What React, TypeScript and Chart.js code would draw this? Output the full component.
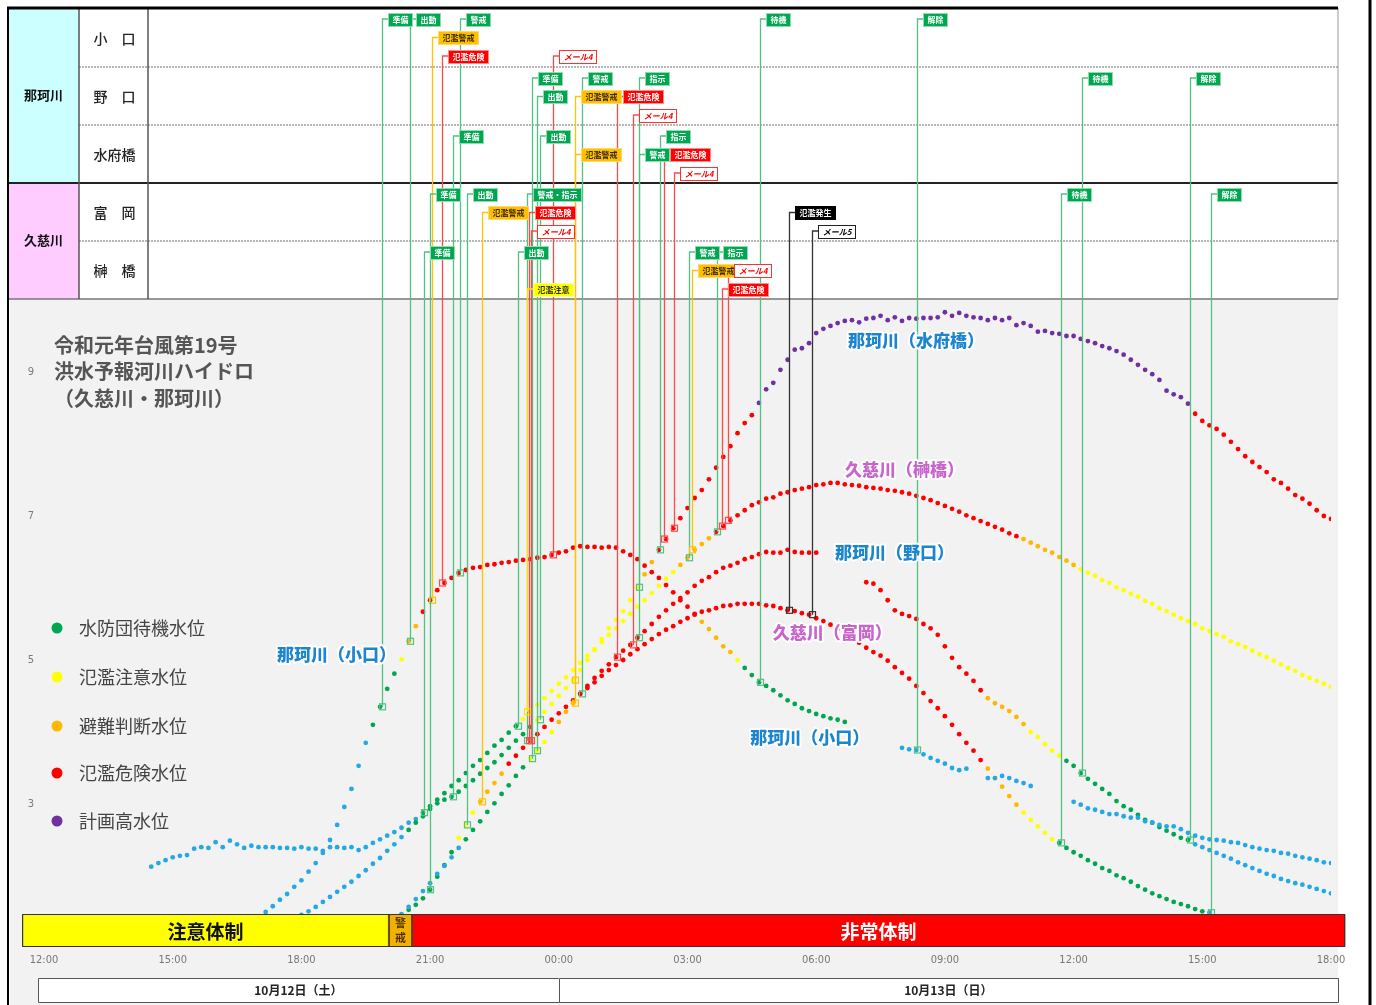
import React, { useEffect, useRef } from "react";
import { Chart, registerables } from "chart.js";

Chart.register(...registerables);

const FONT = "'Noto Sans CJK JP', 'Noto Sans', sans-serif";

// ---- axes (hours after 12:00, Oct 12) ----
const tickHours = [0, 3, 6, 9, 12, 15, 18, 21, 24, 27, 30];
const tickLabels = ["12:00", "15:00", "18:00", "21:00", "00:00", "03:00", "06:00", "09:00", "12:00", "15:00", "18:00"];
const yTicks = [3, 5, 7, 9];

// ---- table ----
const riverNames = ["那珂川", "久慈川"];
const stationNames = ["小　口", "野　口", "水府橋", "富　岡", "榊　橋"];

// ---- series (10-minute values; start = index of first value, 0 = 12:00) ----
const koguchiStart = 30;
const koguchi = [
  1.42, 1.5, 1.58, 1.67, 1.75, 1.85, 1.94, 2.06, 2.18, 2.32,
  2.5, 2.71, 2.96, 3.21, 3.53, 3.85, 4.1, 4.35, 4.6, 4.81,
  5.01, 5.26, 5.47, 5.67, 5.83, 5.97, 6.07, 6.14, 6.21, 6.25,
  6.28, 6.29, 6.32, 6.33, 6.35, 6.36, 6.38, 6.39, 6.4, 6.42,
  6.43, 6.46, 6.49, 6.51, 6.56, 6.58, 6.57, 6.57, 6.56, 6.57,
  6.56, 6.51, 6.46, 6.4, 6.31, 6.22, 6.14, 6.04, 5.94, 5.83,
  5.74, 5.64, 5.53, 5.43, 5.31, 5.19, 5.11, 5.0, 4.89, 4.79,
  4.69, 4.64, 4.58, 4.51, 4.44, 4.39, 4.33, 4.29, 4.25, 4.22,
  4.19, 4.17, 4.14, null, null, null, null, null, null, null,
  3.78, 3.76, 3.75, 3.69, 3.64, 3.6, 3.56, 3.5, 3.47, 3.49,
  null, null, 3.36, 3.36, 3.39, 3.36, 3.32, 3.29, 3.25, null,
  null, null, null, null, 3.03, 2.99, 2.94, 2.92, 2.89, 2.86,
  2.86, 2.83, 2.81, 2.81, 2.76, 2.74, 2.71, 2.69, 2.69, 2.65,
  2.6, 2.56, 2.53, 2.51, 2.5, 2.49, 2.47, 2.46, 2.43, 2.4,
  2.38, 2.36, 2.35, 2.32, 2.31, 2.28, 2.26, 2.24, 2.22, 2.19, 2.18,
];

const noguchiStart = 50;
const noguchi = [
  1.47, 1.57, 1.68, 1.79, 1.9, 2.03, 2.14, 2.26, 2.39, 2.51,
  2.64, 2.76, 2.89, 3.01, 3.14, 3.26, 3.39, 3.51, 3.63, 3.74,
  3.86, 4.0, 4.14, 4.28, 4.4, 4.53, 4.64, 4.75, 4.85, 4.94,
  5.04, 5.13, 5.21, 5.31, 5.4, 5.5, 5.6, 5.69, 5.78, 5.86,
  5.94, 6.03, 6.1, 6.15, 6.22, 6.28, 6.31, 6.35, 6.4, 6.43,
  6.47, 6.5, 6.49, 6.49, 6.53, 6.5, 6.49, 6.49, 6.49, null,
  null, null, null, null, null, 6.08, 6.06, 5.97, 5.83, 5.69,
  5.64, 5.61, 5.57, 5.5, 5.44, 5.35, 5.19, 5.03, 4.9, 4.81,
  4.71, 4.58, 4.47, 4.4, 4.35, 4.29, 4.21, 4.11, 4.0, 3.93,
  3.83, 3.74, 3.67, 3.6, 3.53, 3.43, 3.35, 3.28, 3.21, 3.14,
  3.04, 2.97, 2.92, 2.85, 2.78, 2.74, 2.68, 2.63, 2.58, 2.53,
  2.5, 2.44, 2.4, 2.36, 2.32, 2.28, 2.24, 2.19, 2.15, 2.11,
  2.07, 2.03, 2.0, 1.96, 1.93, 1.9, 1.88, 1.85, 1.82, 1.79, 1.76,
];

const suifuStart = 36;
const suifu = [
  1.46, 1.51, 1.57, 1.64,
  1.71, 1.78, 1.85, 1.92, 2.0, 2.08, 2.17, 2.25, 2.35, 2.44,
  2.54, 2.64, 2.74, 2.83, 2.93, 3.01, 3.06, 3.1, 3.17, 3.25,
  3.33, 3.42, 3.5, 3.58, 3.68, 3.78, 3.88, 3.97, 4.07, 4.17,
  4.28, 4.39, 4.5, 4.61, 4.72, 4.86, 5.0, 5.14, 5.29, 5.44,
  5.56, 5.68, 5.83, 6.01, 6.19, 6.36, 6.53, 6.68, 6.83, 6.97,
  7.11, 7.25, 7.36, 7.51, 7.67, 7.82, 7.97, 8.15, 8.29, 8.4,
  8.57, 8.76, 8.85, 9.03, 9.17, 9.31, 9.33, 9.4, 9.54, 9.6,
  9.64, 9.68, 9.71, 9.72, 9.69, 9.74, 9.75, 9.78, 9.72, 9.76,
  9.71, 9.75, 9.74, 9.75, 9.75, 9.76, 9.83, 9.78, 9.82, 9.78,
  9.76, 9.75, 9.72, 9.75, 9.72, 9.75, 9.65, 9.68, 9.64, 9.56,
  9.57, 9.54, 9.53, 9.5, 9.5, 9.46, 9.43, 9.4, 9.36, 9.33,
  9.29, 9.24, 9.17, 9.1, 9.03, 8.97, 8.89, 8.74, 8.69, 8.65,
  8.56, 8.42, 8.32, 8.26, 8.21, 8.13, 8.03, 7.93, 7.83, 7.75,
  7.68, 7.61, 7.51, 7.46, 7.38, 7.29, 7.24, 7.17, 7.08, 7.0, 6.96,
];

const tomiokaStart = 50;
const tomioka = [
  1.46, 1.53, 1.6, 1.69, 1.81, 1.99, 2.15, 2.33, 2.53, 2.71,
  2.88, 3.03, 3.17, 3.29, 3.42, 3.56, 3.67, 3.78, 3.88, 3.97,
  4.07, 4.17, 4.26, 4.35, 4.44, 4.53, 4.61, 4.69, 4.78, 4.86,
  4.93, 5.0, 5.08, 5.15, 5.22, 5.29, 5.36, 5.42, 5.47, 5.53,
  5.58, 5.63, 5.67, 5.69, 5.72, 5.75, 5.76, 5.78, 5.78, 5.78,
  5.78, 5.76, 5.75, 5.72, 5.69, 5.68, 5.65, 5.63, 5.58, 5.54,
  5.49, 5.43, 5.36, 5.31, 5.24, 5.17, 5.11, 5.06, 4.99, 4.9,
  4.82, 4.74, 4.64, 4.54, 4.43, 4.33, 4.22, 4.1, 3.97, 3.85,
  3.74, 3.61, 3.49, 3.36, 3.24, 3.11, 2.99, 2.88, 2.78, 2.69,
  2.6, 2.51, 2.46, 2.39, 2.33, 2.28, 2.22, 2.17, 2.11, 2.07,
  2.01, 1.97, 1.92, 1.86, 1.81, 1.76, 1.72, 1.68, 1.64, 1.61,
  1.58, 1.54, 1.51, 1.49, 1.44, 1.4,
];

const sakakiStart = 15;
const sakaki = [
  2.13, 2.18, 2.22, 2.26, 2.28,
  2.29, 2.38, 2.4, 2.39, 2.47, 2.4, 2.49, 2.44, 2.39, 2.42,
  2.4, 2.4, 2.4, 2.39, 2.39, 2.38, 2.4, 2.38, 2.38, 2.35,
  2.4, 2.4, 2.39, 2.4, 2.36, 2.4, 2.46, 2.51, 2.56, 2.61,
  2.67, 2.74, 2.79, 2.88, 2.97, 3.06, 3.15, 3.25, 3.33, 3.43,
  3.53, 3.61, 3.71, 3.81, 3.89, 3.99, 4.08, 4.18, 4.28, 4.38,
  4.47, 4.57, 4.67, 4.76, 4.86, 4.96, 5.06, 5.15, 5.25, 5.35,
  5.44, 5.54, 5.64, 5.74, 5.83, 5.93, 6.03, 6.13, 6.22, 6.32,
  6.42, 6.53, 6.61, 6.69, 6.78, 6.86, 6.94, 7.01, 7.08, 7.15,
  7.19, 7.24, 7.26, 7.31, 7.33, 7.36, 7.38, 7.4, 7.43, 7.44,
  7.46, 7.46, 7.44, 7.43, 7.42, 7.4, 7.39, 7.38, 7.36, 7.35,
  7.33, 7.31, 7.28, 7.25, 7.22, 7.18, 7.14, 7.1, 7.06, 7.01,
  6.97, 6.93, 6.89, 6.85, 6.81, 6.76, 6.72, 6.68, 6.63, 6.58,
  6.53, 6.49, 6.43, 6.38, 6.32, 6.26, 6.21, 6.17, 6.11, 6.07,
  6.01, 5.97, 5.92, 5.88, 5.82, 5.78, 5.72, 5.68, 5.63, 5.58,
  5.54, 5.5, 5.44, 5.4, 5.36, 5.32, 5.26, 5.22, 5.18, 5.13,
  5.08, 5.04, 4.99, 4.94, 4.89, 4.85, 4.79, 4.75, 4.71, 4.67, 4.63,
];

// station order: 小口, 野口, 水府橋, 富岡, 榊橋
const seriesStarts = [koguchiStart, noguchiStart, suifuStart, tomiokaStart, sakakiStart];
const seriesValues = [koguchi, noguchi, suifu, tomioka, sakaki];

// ---- threshold levels per station ----
const taikiLevel = [3.97, 2.46, 2.57, 1.5, 2.86];
const chuiLevel = [4.9, 3.63, 4.14, 2.48, 4.17];
const handanLevel = [5.05, 4.04, 6.18, 2.92, 6.31];
const kikenLevel = [5.64, 4.51, 6.39, 3.54, 6.71];
const keikakuLevel = [7.5, 7.0, 8.44, 6.5, 9.5];

const levelNames = ["水防団待機水位", "氾濫注意水位", "避難判断水位", "氾濫危険水位", "計画高水位"];
const levelColors = ["#00a650", "#ffff00", "#ffb800", "#ff0000", "#7030a0"];
const belowColor = "#25a9e4";

// ---- events: [station, slot, label, style, hour] ----
const events: [number, number, string, string, number][] = [
  [0, 0, "準備", "g", 7.88],
  [0, 0, "出動", "g", 8.53],
  [0, 0, "警戒", "g", 9.7],
  [0, 1, "氾濫警戒", "o", 9.04],
  [0, 2, "氾濫危険", "r", 9.28],
  [0, 2, "メール4", "m", 11.86],
  [0, 0, "待機", "g", 16.69],
  [0, 0, "解除", "g", 20.35],
  [1, 0, "準備", "g", 11.38],
  [1, 1, "出動", "g", 11.49],
  [1, 0, "警戒", "g", 12.54],
  [1, 1, "氾濫警戒", "o", 12.38],
  [1, 1, "氾濫危険", "r", 13.36],
  [1, 0, "指示", "g", 13.87],
  [1, 2, "メール4", "m", 13.73],
  [1, 0, "待機", "g", 24.2],
  [1, 0, "解除", "g", 26.71],
  [2, 0, "準備", "g", 9.53],
  [2, 0, "出動", "g", 11.56],
  [2, 1, "氾濫警戒", "o", 12.38],
  [2, 0, "指示", "g", 14.36],
  [2, 1, "警戒", "g", 13.87],
  [2, 1, "氾濫危険", "r", 14.45],
  [2, 2, "メール4", "m", 14.69],
  [3, 0, "準備", "g", 8.99],
  [3, 0, "出動", "g", 9.86],
  [3, 0, "警戒・指示", "g", 11.26],
  [3, 1, "氾濫警戒", "o", 10.21],
  [3, 1, "氾濫危険", "r", 11.31],
  [3, 2, "メール4", "m", 11.35],
  [3, 1, "氾濫発生", "k", 17.37],
  [3, 2, "メール5", "mk", 17.9],
  [3, 0, "待機", "g", 23.71],
  [3, 0, "解除", "g", 27.2],
  [4, 0, "準備", "g", 8.86],
  [4, 0, "出動", "g", 11.05],
  [4, 2, "氾濫注意", "y", 11.26],
  [4, 0, "警戒", "g", 15.03],
  [4, 0, "指示", "g", 15.69],
  [4, 1, "氾濫警戒", "o", 15.1],
  [4, 1, "メール4", "m", 15.94],
  [4, 2, "氾濫危険", "r", 15.8],
];

// ---- river labels on the plot: text, hour, value, color ----
const plotLabelText = ["那珂川（水府橋）", "久慈川（榊橋）", "那珂川（野口）", "久慈川（富岡）", "那珂川（小口）", "那珂川（小口）"];
const plotLabelHour = [18.74, 18.67, 18.44, 16.99, 5.43, 16.46];
const plotLabelValue = [9.44, 7.64, 6.49, 5.38, 5.07, 3.92];
const plotLabelColor = ["#1b86cf", "#c864cc", "#1b86cf", "#c864cc", "#1b86cf", "#1b86cf"];

// ---- response system bar ----
const barText = ["注意体制", "警戒", "非常体制"];
const barStart = [-0.51, 8.04, 8.58];
const barEnd = [8.04, 8.58, 30.33];
const barColor = ["#ffff00", "#f2b100", "#ff0000"];

// ---- date boxes ----
const dateLabels = ["10月12日（土）", "10月13日（日）"];
const dateStart = [-0.14, 12];
const dateEnd = [12, 30.16];

const titleLines = ["令和元年台風第19号", "洪水予報河川ハイドロ", "（久慈川・那珂川）"];

function levelColor(s: number, v: number) {
  if (v >= keikakuLevel[s]) return levelColors[4];
  if (v >= kikenLevel[s]) return levelColors[3];
  if (v >= handanLevel[s]) return levelColors[2];
  if (v >= chuiLevel[s]) return levelColors[1];
  if (v >= taikiLevel[s]) return levelColors[0];
  return belowColor;
}

function valueAt(s: number, idx: number) {
  const arr = seriesValues[s];
  const k = idx - seriesStarts[s];
  for (let d = 0; d < 6; d++) {
    if (arr[k - d] != null) return arr[k - d] as number;
    if (arr[k + d] != null) return arr[k + d] as number;
  }
  return null;
}

const styleDefs: Record<string, { fill: string; text: string; border: string; line: string; italic?: boolean }> = {
  g: { fill: "#00a650", text: "#ffffff", border: "#8fdcae", line: "#52c282" },
  o: { fill: "#ffc000", text: "#3b2b00", border: "#ffd870", line: "#ffc400" },
  r: { fill: "#ff0000", text: "#ffffff", border: "#ff8c8c", line: "#ff4a4a" },
  m: { fill: "#ffffff", text: "#ff0000", border: "#ff3030", line: "#ff4a4a", italic: true },
  k: { fill: "#000000", text: "#ffffff", border: "#000000", line: "#333333" },
  mk: { fill: "#ffffff", text: "#000000", border: "#222222", line: "#333333", italic: true },
  y: { fill: "#ffff00", text: "#333333", border: "#ffff90", line: "#ffe000" },
};

const rowTops = [8, 67, 125, 183, 241, 299];
const slotOffsets = [11, 29.5, 48];

function seg(ctx: CanvasRenderingContext2D, x1: number, y1: number, x2: number, y2: number) {
  ctx.beginPath();
  ctx.moveTo(x1, y1);
  ctx.lineTo(x2, y2);
  ctx.stroke();
}

const overlayPlugin = {
  id: "hydroOverlay",
  beforeDraw(chart: any) {
    const ctx: CanvasRenderingContext2D = chart.ctx;
    ctx.save();
    ctx.fillStyle = "#ffffff";
    ctx.fillRect(0, 0, chart.width, chart.height);
    // plot background
    ctx.fillStyle = "#f2f2f2";
    ctx.fillRect(10, 299, 1328, 706);

    // table
    const L = 8, C1 = 79, C2 = 148, R = 1338, T = 8, B = 299;
    ctx.fillStyle = "#ffffff";
    ctx.fillRect(L, T, R - L, B - T);
    ctx.fillStyle = "#ccffff";
    ctx.fillRect(L, T, C1 - L, 183 - T);
    ctx.fillStyle = "#ffccff";
    ctx.fillRect(L, 183, C1 - L, B - 183);

    ctx.save();
    ctx.strokeStyle = "#a0a0a0";
    ctx.lineWidth = 1.5;
    ctx.setLineDash([2, 1]);
    for (const y of [67, 125, 241]) seg(ctx, C1, y, R, y);
    ctx.restore();

    ctx.strokeStyle = "#222";
    ctx.lineWidth = 2;
    seg(ctx, L, 183, R, 183);
    ctx.strokeStyle = "#777";
    ctx.lineWidth = 1.5;
    seg(ctx, L, B, R, B);
    ctx.strokeStyle = "#555";
    ctx.lineWidth = 1.5;
    seg(ctx, C1, T, C1, B);
    seg(ctx, C2, T, C2, B);
    ctx.strokeStyle = "#999";
    ctx.lineWidth = 1;
    seg(ctx, R, T, R, B);
    ctx.strokeStyle = "#000";
    ctx.lineWidth = 3;
    seg(ctx, L - 1, T, R, T);

    ctx.fillStyle = "#111";
    ctx.textAlign = "center";
    ctx.textBaseline = "middle";
    ctx.font = `bold 13px ${FONT}`;
    ctx.fillText(riverNames[0], (L + C1) / 2, 95);
    ctx.fillText(riverNames[1], (L + C1) / 2, 240);
    ctx.font = `500 14px ${FONT}`;
    ctx.fillStyle = "#222";
    stationNames.forEach((n, i) => {
      ctx.fillText(n, (C1 + C2) / 2 + 1, (rowTops[i] + rowTops[i + 1]) / 2 + 1);
    });
    ctx.restore();
  },
  afterDatasetsDraw(chart: any) {
    const ctx: CanvasRenderingContext2D = chart.ctx;
    const xs = chart.scales.x;
    const ys = chart.scales.y;
    ctx.save();

    // event lines and tags
    for (const [s, slot, label, style, hour] of events) {
      const st = styleDefs[style];
      const x = Math.round(xs.getPixelForValue(hour)) + 0.5;
      const v = valueAt(s, Math.round(hour * 6));
      const yb = v == null ? 900 : ys.getPixelForValue(v);
      const yt = rowTops[s] + slotOffsets[slot];
      ctx.strokeStyle = st.line;
      ctx.lineWidth = 1.3;
      ctx.beginPath();
      ctx.moveTo(x + 6, yt);
      ctx.lineTo(x, yt);
      ctx.lineTo(x, yb);
      ctx.stroke();
      ctx.lineWidth = 1.2;
      ctx.strokeRect(x - 3, yb - 3, 6, 6);
    }
    for (const [s, slot, label, style, hour] of events) {
      const st = styleDefs[style];
      const x = Math.round(xs.getPixelForValue(hour)) + 0.5;
      const yt = rowTops[s] + slotOffsets[slot];
      ctx.font = `${st.italic ? "italic " : ""}bold 8px ${FONT}`;
      const w = Math.round(ctx.measureText(label).width) + 8;
      const bx = x + 6, by = Math.round(yt - 6.5) + 0.5;
      ctx.fillStyle = st.fill;
      ctx.fillRect(bx, by, w, 13);
      ctx.strokeStyle = st.border;
      ctx.lineWidth = 1;
      ctx.strokeRect(bx, by, w, 13);
      ctx.fillStyle = st.text;
      ctx.textAlign = "center";
      ctx.textBaseline = "middle";
      ctx.fillText(label, bx + w / 2, yt + 0.5);
    }

    // river labels
    ctx.textAlign = "left";
    ctx.textBaseline = "middle";
    ctx.font = `900 17px ${FONT}`;
    ctx.lineJoin = "round";
    plotLabelText.forEach((t, i) => {
      const px = xs.getPixelForValue(plotLabelHour[i]);
      const py = ys.getPixelForValue(plotLabelValue[i]);
      ctx.strokeStyle = "rgba(255,255,255,0.95)";
      ctx.lineWidth = 4;
      ctx.strokeText(t, px, py);
      ctx.fillStyle = plotLabelColor[i];
      ctx.fillText(t, px, py);
    });

    // title
    ctx.fillStyle = "#555";
    ctx.font = `bold 20px ${FONT}`;
    ctx.textAlign = "left";
    titleLines.forEach((t, i) => ctx.fillText(t, 54, 345 + i * 26.5));

    // y tick labels
    ctx.fillStyle = "#7a7a7a";
    ctx.font = `10px 'DejaVu Sans', sans-serif`;
    ctx.textAlign = "center";
    yTicks.forEach((v) => ctx.fillText(String(v), 31, ys.getPixelForValue(v)));

    // legend
    const legendY = [628, 677, 726, 773, 821];
    levelNames.forEach((n, i) => {
      ctx.beginPath();
      ctx.arc(57, legendY[i], 5.5, 0, Math.PI * 2);
      ctx.fillStyle = levelColors[i];
      ctx.fill();
      ctx.fillStyle = "#444";
      ctx.font = `18px ${FONT}`;
      ctx.textAlign = "left";
      ctx.fillText(n, 79, legendY[i]);
    });

    // response bar
    const barTop = 914, barH = 33;
    barText.forEach((t, i) => {
      const x1 = xs.getPixelForValue(barStart[i]);
      const x2 = xs.getPixelForValue(barEnd[i]);
      ctx.fillStyle = barColor[i];
      ctx.fillRect(x1, barTop, x2 - x1, barH);
      ctx.strokeStyle = "#5a3a00";
      ctx.lineWidth = 1;
      ctx.strokeRect(x1 + 0.5, barTop + 0.5, x2 - x1 - 1, barH - 1);
      ctx.textAlign = "center";
      ctx.textBaseline = "middle";
      if (i === 1) {
        ctx.fillStyle = "#4a3000";
        ctx.font = `bold 11px ${FONT}`;
        ctx.fillText(t[0], (x1 + x2) / 2, barTop + 9);
        ctx.fillText(t[1], (x1 + x2) / 2, barTop + 24);
      } else {
        ctx.fillStyle = i === 0 ? "#111" : "#ffffff";
        ctx.font = `bold 19px ${FONT}`;
        ctx.fillText(t, (x1 + x2) / 2, barTop + barH / 2 + 1);
      }
    });
    ctx.strokeStyle = "#333";
    ctx.lineWidth = 1;
    const bl = xs.getPixelForValue(barStart[0]);
    const br = xs.getPixelForValue(barEnd[2]);
    ctx.strokeRect(bl + 0.5, barTop + 0.5, br - bl - 1, barH - 1);

    // x tick labels
    ctx.fillStyle = "#777";
    ctx.font = `11px 'Liberation Sans Narrow', 'DejaVu Sans Condensed', sans-serif`;
    ctx.textAlign = "center";
    tickHours.forEach((h, i) => ctx.fillText(tickLabels[i], xs.getPixelForValue(h), 960));

    // date boxes
    dateLabels.forEach((t, i) => {
      const x1 = xs.getPixelForValue(dateStart[i]);
      const x2 = xs.getPixelForValue(dateEnd[i]);
      ctx.fillStyle = "#ffffff";
      ctx.fillRect(x1, 978, x2 - x1, 24);
      ctx.strokeStyle = "#555";
      ctx.lineWidth = 1;
      ctx.strokeRect(Math.round(x1) + 0.5, 978.5, Math.round(x2 - x1), 24);
      ctx.fillStyle = "#222";
      ctx.font = `bold 12px ${FONT}`;
      ctx.fillText(t, (x1 + x2) / 2, 990.5);
    });

    // outer frame
    ctx.strokeStyle = "#000";
    ctx.lineWidth = 2;
    seg(ctx, 8, 7, 8, 1005);
    ctx.lineWidth = 3;
    seg(ctx, 1370, 0, 1370, 1005);
    ctx.restore();
  },
};

export default function App() {
  const ref = useRef<HTMLCanvasElement>(null);
  useEffect(() => {
    document.body.style.margin = "0";
    Chart.defaults.font.family = FONT;
    const datasets = seriesValues.map((vals, s) => ({
      label: String(s),
      data: vals
        .map((v, k) => (v == null ? null : { x: (seriesStarts[s] + k) / 6, y: v }))
        .filter((p) => p !== null) as { x: number; y: number }[],
      showLine: false,
      pointRadius: 2.4,
      pointHoverRadius: 2.4,
      pointBorderWidth: 0,
      pointBackgroundColor: (c: any) => levelColor(s, c.raw ? c.raw.y : 0),
      pointBorderColor: (c: any) => levelColor(s, c.raw ? c.raw.y : 0),
    }));
    const chart = new Chart(ref.current as HTMLCanvasElement, {
      type: "scatter",
      data: { datasets },
      options: {
        animation: false,
        responsive: true,
        maintainAspectRatio: false,
        devicePixelRatio: 1,
        events: [],
        layout: { padding: { left: 44, right: 45, top: 300, bottom: 57 } },
        scales: {
          x: { type: "linear", min: 0, max: 30, display: false },
          y: { type: "linear", min: 1, max: 10, display: false },
        },
        plugins: { legend: { display: false }, tooltip: { enabled: false } },
      },
      plugins: [overlayPlugin],
    } as any);
    return () => chart.destroy();
  }, []);
  return (
    <div style={{ position: "relative", width: 1376, height: 1005 }}>
      <canvas ref={ref} />
    </div>
  );
}
